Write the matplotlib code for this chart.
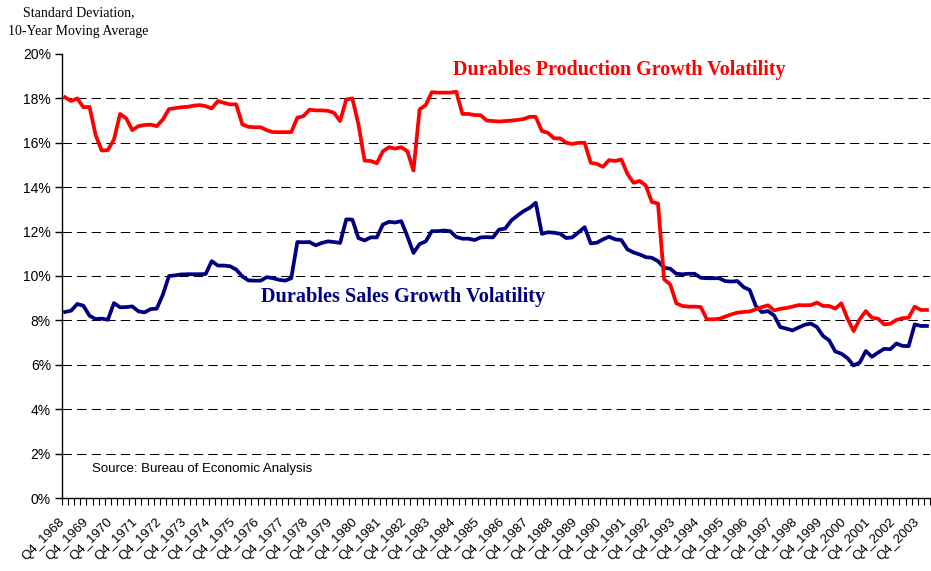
import matplotlib
matplotlib.use("Agg")
import matplotlib.pyplot as plt
import matplotlib.transforms as mtransforms
import numpy as np

# Quarterly series, Q4 1968 .. Q1 2004 (142 quarters), percent
production = [
    18.05, 17.88, 18.00, 17.60, 17.62, 16.35, 15.65, 15.67, 16.15, 17.30,
    17.10, 16.57, 16.75, 16.80, 16.82, 16.75, 17.05, 17.52, 17.56, 17.60,
    17.62, 17.67, 17.70, 17.65, 17.55, 17.88, 17.80, 17.73, 17.73, 16.83,
    16.72, 16.70, 16.70, 16.57, 16.48, 16.48, 16.48, 16.48, 17.13, 17.20,
    17.49, 17.46, 17.46, 17.44, 17.35, 16.98, 17.95, 18.00, 16.83, 15.20,
    15.18, 15.08, 15.62, 15.80, 15.74, 15.80, 15.62, 14.75, 17.50, 17.70,
    18.28, 18.26, 18.26, 18.26, 18.30, 17.30, 17.30, 17.25, 17.24, 17.00,
    16.98, 16.96, 16.98, 17.00, 17.03, 17.07, 17.17, 17.17, 16.53, 16.45,
    16.20, 16.20, 16.00, 15.95, 16.00, 16.00, 15.10, 15.05, 14.92, 15.22,
    15.18, 15.25, 14.60, 14.20, 14.28, 14.08, 13.33, 13.27, 9.85, 9.62,
    8.77, 8.65, 8.62, 8.62, 8.60, 8.05, 8.05, 8.07, 8.17, 8.27,
    8.35, 8.38, 8.40, 8.50, 8.60, 8.68, 8.45, 8.52, 8.56, 8.62,
    8.69, 8.68, 8.69, 8.80, 8.65, 8.65, 8.53, 8.77, 8.08, 7.52,
    8.05, 8.42, 8.12, 8.08, 7.82, 7.85, 8.02, 8.10, 8.12, 8.62,
    8.47, 8.47,
]

sales = [
    8.38, 8.44, 8.74, 8.66, 8.21, 8.06, 8.08, 8.03, 8.78, 8.59,
    8.60, 8.63, 8.41, 8.36, 8.51, 8.53, 9.16, 10.00, 10.03, 10.07,
    10.08, 10.08, 10.08, 10.09, 10.67, 10.47, 10.47, 10.44, 10.29, 9.98,
    9.80, 9.79, 9.79, 9.95, 9.90, 9.83, 9.79, 9.90, 11.53, 11.52,
    11.53, 11.38, 11.49, 11.56, 11.53, 11.49, 12.55, 12.54, 11.71, 11.60,
    11.74, 11.74, 12.32, 12.44, 12.41, 12.47, 11.79, 11.04, 11.44, 11.56,
    12.02, 12.02, 12.05, 12.02, 11.76, 11.68, 11.68, 11.62, 11.74, 11.75,
    11.74, 12.09, 12.14, 12.50, 12.72, 12.92, 13.07, 13.30, 11.90, 11.97,
    11.95, 11.90, 11.71, 11.74, 11.97, 12.20, 11.47, 11.50, 11.65, 11.77,
    11.65, 11.62, 11.20, 11.06, 10.97, 10.85, 10.82, 10.67, 10.37, 10.33,
    10.10, 10.08, 10.10, 10.10, 9.92, 9.90, 9.90, 9.90, 9.77, 9.75,
    9.77, 9.50, 9.37, 8.65, 8.37, 8.42, 8.22, 7.70, 7.63, 7.55,
    7.68, 7.80, 7.86, 7.70, 7.30, 7.10, 6.60, 6.50, 6.30, 5.97,
    6.10, 6.62, 6.36, 6.55, 6.72, 6.70, 6.96, 6.85, 6.84, 7.82,
    7.75, 7.75,
]

tick_labels = [
    "Q4_1968", "Q4_1969", "Q4_1970", "Q4_1971", "Q4_1972", "Q4_1973",
    "Q4_1974", "Q4_1975", "Q4_1976", "Q4_1977", "Q4_1978", "Q4_1979",
    "Q4_1980", "Q4_1981", "Q4_1982", "Q4_1983", "Q4_1984", "Q4_1985",
    "Q4_1986", "Q4_1987", "Q4_1988", "Q4_1989", "Q4_1990", "Q4_1991",
    "Q4_1992", "Q4_1993", "Q4_1994", "Q4_1995", "Q4_1996", "Q4_1997",
    "Q4_1998", "Q4_1999", "Q4_2000", "Q4_2001", "Q4_2002", "Q4_2003",
]

y_ticks = [0, 2, 4, 6, 8, 10, 12, 14, 16, 18, 20]

SERIF = ["Liberation Serif", "DejaVu Serif"]
SANS = ["Liberation Sans", "DejaVu Sans"]

n = len(production)
x = np.arange(n)

fig = plt.figure(figsize=(9.31, 5.71), dpi=100)
ax = fig.add_axes([62 / 931, 1 - 498 / 571, 868 / 931, (498 - 54) / 571])

for yv in y_ticks[1:-1]:
    ax.axhline(yv, color="black", lw=0.75, ls=(0, (9, 5)), zorder=1)

ax.plot(x, sales, color="#000080", lw=2.7, solid_joinstyle="round", zorder=3)
ax.plot(x, production, color="#FF0000", lw=2.7, solid_joinstyle="round", zorder=4)

ax.set_xlim(-0.5, n - 0.5)
ax.set_ylim(0, 20)

ax.set_yticks(y_ticks)
ax.set_yticklabels([f"{v}%" for v in y_ticks], fontfamily=SANS, fontsize=10)
ax.tick_params(axis="y", direction="out", length=5, width=1, pad=3)

major_pos = [4 * k for k in range(len(tick_labels))]
ax.set_xticks(major_pos)
ax.set_xticklabels(tick_labels, rotation=45, ha="right", va="top",
                   rotation_mode="anchor", fontfamily=SANS, fontsize=9.5)
ax.tick_params(axis="x", which="major", length=0, pad=13)
ax.set_xticks(np.arange(n + 1) - 0.5, minor=True)
ax.tick_params(axis="x", which="minor", direction="out", length=5, width=0.8)
shift = mtransforms.ScaledTranslation(-7 / 100, 0, fig.dpi_scale_trans)
for lab in ax.get_xticklabels():
    lab.set_transform(lab.get_transform() + shift)

for s in ["top", "right"]:
    ax.spines[s].set_visible(False)
for s in ["left", "bottom"]:
    ax.spines[s].set_linewidth(1.0)
    ax.spines[s].set_color("black")

fig.text(23 / 931, 1 - 13 / 571, "Standard Deviation,", fontfamily=SERIF,
         fontsize=10, ha="left", va="center")
fig.text(8 / 931, 1 - 31 / 571, "10-Year Moving Average", fontfamily=SERIF,
         fontsize=10, ha="left", va="center")

ax.text((619 - 62) / 868, (498 - 70) / 444, "Durables Production Growth Volatility",
        transform=ax.transAxes, color="#FF0000", fontfamily=SERIF,
        fontweight="bold", fontsize=14.4, ha="center", va="center")
ax.text((403 - 62) / 868, (498 - 297) / 444, "Durables Sales Growth Volatility",
        transform=ax.transAxes, color="#000080", fontfamily=SERIF,
        fontweight="bold", fontsize=14.6, ha="center", va="center")
ax.text(0.035, 0.065, "Source: Bureau of Economic Analysis", transform=ax.transAxes,
        color="black", fontfamily=SANS, fontsize=9.5, ha="left", va="center")

fig.savefig("out.png", dpi=100)
